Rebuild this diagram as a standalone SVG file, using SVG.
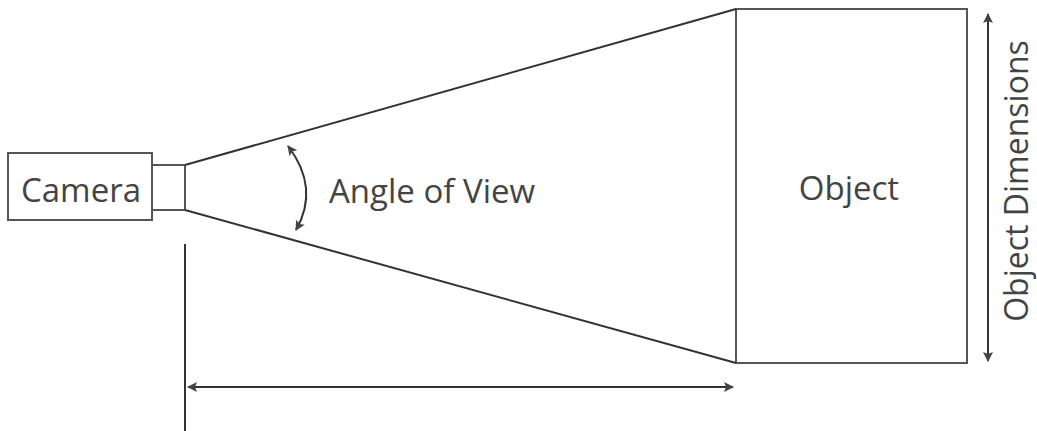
<svg xmlns="http://www.w3.org/2000/svg" width="1037" height="431" viewBox="0 0 1037 431">
<style>
.box{fill:#fff;stroke:#555;stroke-width:2}
.ln{fill:none;stroke:#333;stroke-width:2}
.t{font-family:"Open Sans","Liberation Sans",sans-serif;fill:#444;font-size:33px}
</style>
<defs>
<marker id="ah" viewBox="0 0 10 10" refX="9" refY="5" markerWidth="5" markerHeight="5" orient="auto-start-reverse" markerUnits="strokeWidth">
<path d="M0,0 L10,5 L0,10 L2,5 z" fill="#444"/>
</marker>
</defs>
<rect width="1037" height="431" fill="#fff"/>
<g id="camera">
<rect class="box" x="8" y="153" width="144" height="67"/>
<text class="t" x="81" y="202" text-anchor="middle">Camera</text>
</g>
<g id="lens">
<rect class="box" x="152" y="165" width="33" height="45"/>
</g>
<g id="object">
<rect class="box" x="736" y="9" width="231" height="354"/>
<text class="t" x="849" y="200" text-anchor="middle">Object</text>
</g>
<g id="labels">
<text class="t" transform="translate(329,203)">Angle of View</text>
<text class="t" transform="translate(1028,181) rotate(-90)" text-anchor="middle" style="font-size:32px">Object Dimensions</text>
</g>
<g id="connectors">
<line class="ln" x1="185" y1="165" x2="736" y2="9"/>
<line class="ln" x1="185" y1="210" x2="736" y2="363"/>
<path class="ln" d="M288,146 Q320,188 296,230" marker-start="url(#ah)" marker-end="url(#ah)"/>
<line class="ln" x1="988" y1="14" x2="988" y2="361" marker-start="url(#ah)" marker-end="url(#ah)" stroke="#555"/>
<line class="ln" x1="185" y1="244" x2="185" y2="431" stroke="#555"/>
<line class="ln" x1="188" y1="387" x2="733" y2="387" marker-start="url(#ah)" marker-end="url(#ah)" stroke="#555"/>
</g>
</svg>
